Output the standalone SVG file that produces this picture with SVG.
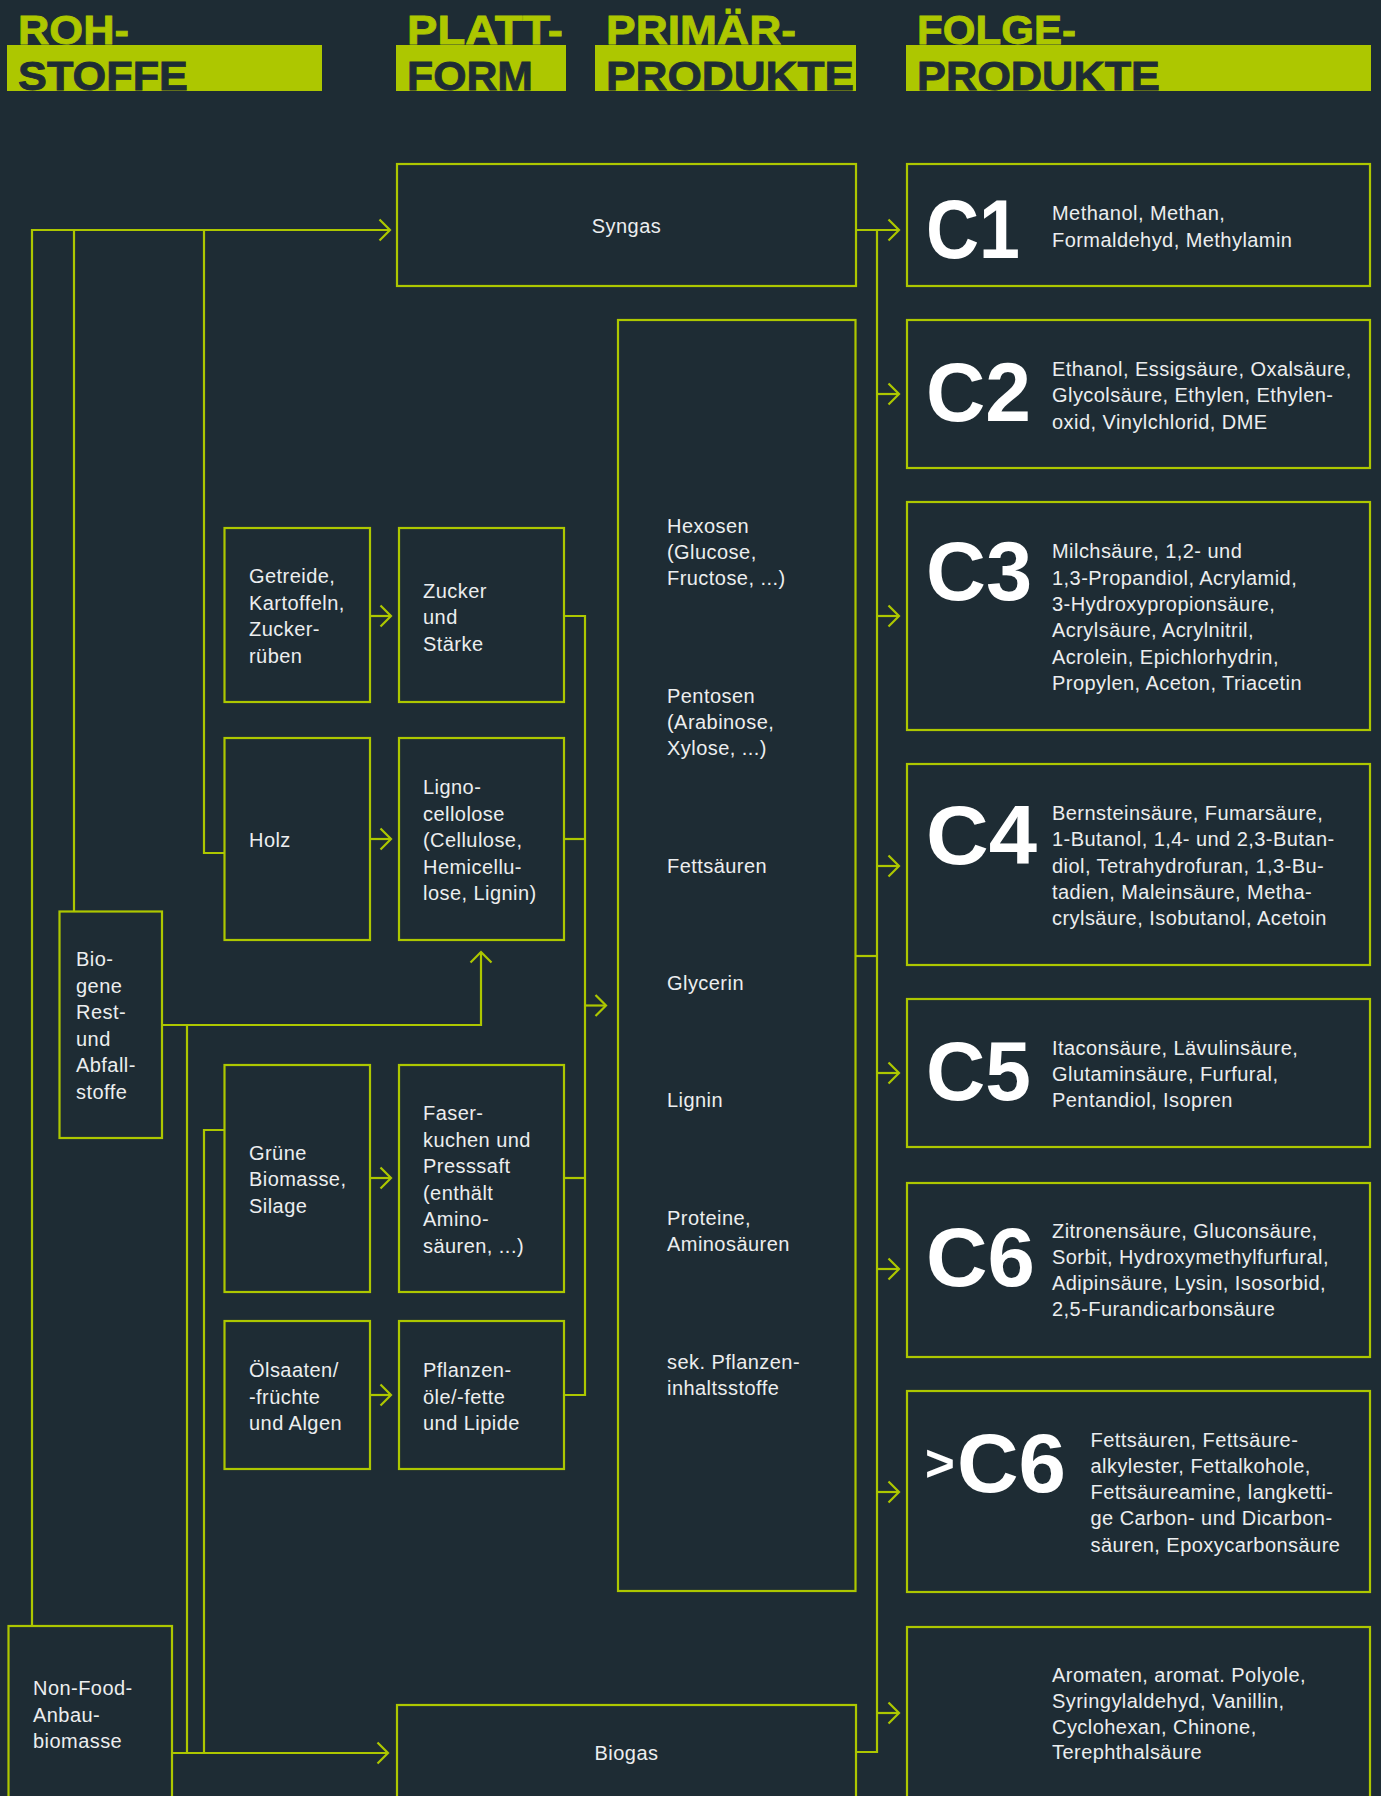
<svg xmlns="http://www.w3.org/2000/svg" width="1381" height="1796" viewBox="0 0 1381 1796">
<style>
.bg{fill:#1e2c34}
.box{fill:none;stroke:#adc700;stroke-width:2.2}
.con{fill:none;stroke:#adc700;stroke-width:2.2}
.bar{fill:#adc700}
.h1{font-family:"Liberation Sans",Arial,sans-serif;font-weight:bold;font-size:41px;fill:#adc700;stroke:#adc700;stroke-width:0.8}
.h2{font-family:"Liberation Sans",Arial,sans-serif;font-weight:bold;font-size:41px;fill:#1e2c34;stroke:#1e2c34;stroke-width:0.8}
.t{font-family:"Liberation Sans",Arial,sans-serif;font-size:20px;letter-spacing:0.45px;fill:#eceeef}
.c{font-family:"Liberation Sans",Arial,sans-serif;font-weight:bold;font-size:84px;fill:#ffffff}
</style>
<defs>
<marker id="ah" markerUnits="userSpaceOnUse" viewBox="0 0 14 24" markerWidth="14" markerHeight="24" refX="11" refY="11" orient="auto" overflow="visible">
<path d="M0.5,0.5 L11,11 L0.5,21.5" fill="none" stroke="#adc700" stroke-width="2.2"/>
</marker>
</defs>
<rect class="bg" x="0" y="0" width="1381" height="1796"/>

<g id="header">
<rect class="bar" x="7" y="45" width="315" height="46"/>
<rect class="bar" x="396" y="45" width="170" height="46"/>
<rect class="bar" x="595" y="45" width="261" height="46"/>
<rect class="bar" x="906" y="45" width="465" height="46"/>
<text class="h1" x="18" y="44" textLength="111" lengthAdjust="spacingAndGlyphs">ROH-</text>
<text class="h2" x="18" y="90" textLength="170" lengthAdjust="spacingAndGlyphs">STOFFE</text>
<text class="h1" x="407" y="44" textLength="156" lengthAdjust="spacingAndGlyphs">PLATT-</text>
<text class="h2" x="407" y="90" textLength="126" lengthAdjust="spacingAndGlyphs">FORM</text>
<text class="h1" x="606" y="44" textLength="190" lengthAdjust="spacingAndGlyphs">PRIMÄR-</text>
<text class="h2" x="606" y="90" textLength="248" lengthAdjust="spacingAndGlyphs">PRODUKTE</text>
<text class="h1" x="917" y="44" textLength="159" lengthAdjust="spacingAndGlyphs">FOLGE-</text>
<text class="h2" x="917" y="90" textLength="243" lengthAdjust="spacingAndGlyphs">PRODUKTE</text>
</g>

<g id="connectors">
<path class="con" d="M32,1626 V230 H390" marker-end="url(#ah)"/>
<path class="con" d="M74,911 V230"/>
<path class="con" d="M204,230 V853 H224.5"/>
<path class="con" d="M162,1025 H481 V952" marker-end="url(#ah)"/>
<path class="con" d="M187,1025 V1753"/>
<path class="con" d="M224.5,1130 H204 V1753"/>
<path class="con" d="M172,1753 H388" marker-end="url(#ah)"/>
<path class="con" d="M370,616 H391" marker-end="url(#ah)"/>
<path class="con" d="M370,839 H391" marker-end="url(#ah)"/>
<path class="con" d="M370,1178 H391" marker-end="url(#ah)"/>
<path class="con" d="M370,1395 H391" marker-end="url(#ah)"/>
<path class="con" d="M564,616 H585 V1395 H564"/>
<path class="con" d="M564,839 H585"/>
<path class="con" d="M564,1178 H585"/>
<path class="con" d="M585,1005.5 H606" marker-end="url(#ah)"/>
<path class="con" d="M856,230 H899" marker-end="url(#ah)"/>
<path class="con" d="M877,230 V1752 H856"/>
<path class="con" d="M856,956 H877"/>
<path class="con" d="M877,394 H899" marker-end="url(#ah)"/>
<path class="con" d="M877,616 H899" marker-end="url(#ah)"/>
<path class="con" d="M877,866 H899" marker-end="url(#ah)"/>
<path class="con" d="M877,1073 H899" marker-end="url(#ah)"/>
<path class="con" d="M877,1269 H899" marker-end="url(#ah)"/>
<path class="con" d="M877,1492 H899" marker-end="url(#ah)"/>
<path class="con" d="M877,1713 H899" marker-end="url(#ah)"/>
</g>

<g id="syngas">
<rect class="box" x="397" y="164" width="459" height="122"/>
<text class="t" x="626.5" y="233" text-anchor="middle">Syngas</text>
</g>
<g id="biogas">
<rect class="box" x="397" y="1705" width="459" height="120"/>
<text class="t" x="626.5" y="1760" text-anchor="middle">Biogas</text>
</g>

<g id="getreide">
<rect class="box" x="224.5" y="528" width="145.5" height="174"/>
<text class="t" x="249" y="583"><tspan x="249">Getreide,</tspan><tspan x="249" dy="26.6">Kartoffeln,</tspan><tspan x="249" dy="26.6">Zucker-</tspan><tspan x="249" dy="26.6">rüben</tspan></text>
</g>
<g id="zucker">
<rect class="box" x="399" y="528" width="165" height="174"/>
<text class="t" x="423" y="598"><tspan x="423">Zucker</tspan><tspan x="423" dy="26.4">und</tspan><tspan x="423" dy="26.4">Stärke</tspan></text>
</g>
<g id="holz">
<rect class="box" x="224.5" y="738" width="145.5" height="202"/>
<text class="t" x="249" y="847">Holz</text>
</g>
<g id="ligno">
<rect class="box" x="399" y="738" width="165" height="202"/>
<text class="t" x="423" y="794"><tspan x="423">Ligno-</tspan><tspan x="423" dy="26.5">cellolose</tspan><tspan x="423" dy="26.5">(Cellulose,</tspan><tspan x="423" dy="26.5">Hemicellu-</tspan><tspan x="423" dy="26.5">lose, Lignin)</tspan></text>
</g>
<g id="bio">
<rect class="box" x="59.5" y="911.5" width="102.5" height="226.5"/>
<text class="t" x="76" y="966.4"><tspan x="76">Bio-</tspan><tspan x="76" dy="26.45">gene</tspan><tspan x="76" dy="26.45">Rest-</tspan><tspan x="76" dy="26.45">und</tspan><tspan x="76" dy="26.45">Abfall-</tspan><tspan x="76" dy="26.45">stoffe</tspan></text>
</g>
<g id="gruene">
<rect class="box" x="224.5" y="1065" width="145.5" height="227"/>
<text class="t" x="249" y="1160"><tspan x="249">Grüne</tspan><tspan x="249" dy="26.4">Biomasse,</tspan><tspan x="249" dy="26.4">Silage</tspan></text>
</g>
<g id="faser">
<rect class="box" x="399" y="1065" width="165" height="227"/>
<text class="t" x="423" y="1120"><tspan x="423">Faser-</tspan><tspan x="423" dy="26.6">kuchen und</tspan><tspan x="423" dy="26.6">Presssaft</tspan><tspan x="423" dy="26.6">(enthält</tspan><tspan x="423" dy="26.6">Amino-</tspan><tspan x="423" dy="26.6">säuren, ...)</tspan></text>
</g>
<g id="oel">
<rect class="box" x="224.5" y="1321" width="145.5" height="148"/>
<text class="t" x="249" y="1377"><tspan x="249">Ölsaaten/</tspan><tspan x="249" dy="26.5">-früchte</tspan><tspan x="249" dy="26.5">und Algen</tspan></text>
</g>
<g id="pflanzen">
<rect class="box" x="399" y="1321" width="165" height="148"/>
<text class="t" x="423" y="1377"><tspan x="423">Pflanzen-</tspan><tspan x="423" dy="26.5">öle/-fette</tspan><tspan x="423" dy="26.5">und Lipide</tspan></text>
</g>
<g id="nonfood">
<rect class="box" x="8.5" y="1626" width="163.5" height="200"/>
<text class="t" x="33" y="1695"><tspan x="33">Non-Food-</tspan><tspan x="33" dy="26.5">Anbau-</tspan><tspan x="33" dy="26.5">biomasse</tspan></text>
</g>

<g id="primaer">
<rect class="box" x="618" y="320" width="237.5" height="1271"/>
<text class="t" x="667" y="533.3"><tspan x="667">Hexosen</tspan><tspan x="667" dy="26">(Glucose,</tspan><tspan x="667" dy="26">Fructose, ...)</tspan></text>
<text class="t" x="667" y="703.3"><tspan x="667">Pentosen</tspan><tspan x="667" dy="26">(Arabinose,</tspan><tspan x="667" dy="26">Xylose, ...)</tspan></text>
<text class="t" x="667" y="873.3">Fettsäuren</text>
<text class="t" x="667" y="990">Glycerin</text>
<text class="t" x="667" y="1106.7">Lignin</text>
<text class="t" x="667" y="1225"><tspan x="667">Proteine,</tspan><tspan x="667" dy="25.5">Aminosäuren</tspan></text>
<text class="t" x="667" y="1369.3"><tspan x="667">sek. Pflanzen-</tspan><tspan x="667" dy="25.5">inhaltsstoffe</tspan></text>
</g>

<g id="c1">
<rect class="box" x="907" y="164" width="463" height="122"/>
<text class="c" x="926" y="258" textLength="94" lengthAdjust="spacingAndGlyphs">C1</text>
<text class="t" x="1052" y="220"><tspan x="1052">Methanol, Methan,</tspan><tspan x="1052" dy="26.7">Formaldehyd, Methylamin</tspan></text>
</g>
<g id="c2">
<rect class="box" x="907" y="320" width="463" height="148"/>
<text class="c" x="926" y="421" textLength="105" lengthAdjust="spacingAndGlyphs">C2</text>
<text class="t" x="1052" y="376"><tspan x="1052">Ethanol, Essigsäure, Oxalsäure,</tspan><tspan x="1052" dy="26.3">Glycolsäure, Ethylen, Ethylen-</tspan><tspan x="1052" dy="26.3">oxid, Vinylchlorid, DME</tspan></text>
</g>
<g id="c3">
<rect class="box" x="907" y="502" width="463" height="228"/>
<text class="c" x="926" y="600" textLength="106" lengthAdjust="spacingAndGlyphs">C3</text>
<text class="t" x="1052" y="558.3"><tspan x="1052">Milchsäure, 1,2- und</tspan><tspan x="1052" dy="26.35">1,3-Propandiol, Acrylamid,</tspan><tspan x="1052" dy="26.35">3-Hydroxypropionsäure,</tspan><tspan x="1052" dy="26.35">Acrylsäure, Acrylnitril,</tspan><tspan x="1052" dy="26.35">Acrolein, Epichlorhydrin,</tspan><tspan x="1052" dy="26.35">Propylen, Aceton, Triacetin</tspan></text>
</g>
<g id="c4">
<rect class="box" x="907" y="764" width="463" height="201"/>
<text class="c" x="926" y="864" textLength="111" lengthAdjust="spacingAndGlyphs">C4</text>
<text class="t" x="1052" y="820"><tspan x="1052">Bernsteinsäure, Fumarsäure,</tspan><tspan x="1052" dy="26.25">1-Butanol, 1,4- und 2,3-Butan-</tspan><tspan x="1052" dy="26.25">diol, Tetrahydrofuran, 1,3-Bu-</tspan><tspan x="1052" dy="26.25">tadien, Maleinsäure, Metha-</tspan><tspan x="1052" dy="26.25">crylsäure, Isobutanol, Acetoin</tspan></text>
</g>
<g id="c5">
<rect class="box" x="907" y="999" width="463" height="148"/>
<text class="c" x="926" y="1100" textLength="105" lengthAdjust="spacingAndGlyphs">C5</text>
<text class="t" x="1052" y="1055"><tspan x="1052">Itaconsäure, Lävulinsäure,</tspan><tspan x="1052" dy="25.85">Glutaminsäure, Furfural,</tspan><tspan x="1052" dy="25.85">Pentandiol, Isopren</tspan></text>
</g>
<g id="c6">
<rect class="box" x="907" y="1183" width="463" height="174"/>
<text class="c" x="926" y="1286" textLength="109" lengthAdjust="spacingAndGlyphs">C6</text>
<text class="t" x="1052" y="1237.7"><tspan x="1052">Zitronensäure, Gluconsäure,</tspan><tspan x="1052" dy="26.1">Sorbit, Hydroxymethylfurfural,</tspan><tspan x="1052" dy="26.1">Adipinsäure, Lysin, Isosorbid,</tspan><tspan x="1052" dy="26.1">2,5-Furandicarbonsäure</tspan></text>
</g>
<g id="c6plus">
<rect class="box" x="907" y="1391" width="463" height="201"/>
<text class="c" x="925" y="1481" style="font-size:51px">&gt;</text>
<text class="c" x="957" y="1492" textLength="109" lengthAdjust="spacingAndGlyphs">C6</text>
<text class="t" x="1090.5" y="1446.7"><tspan x="1090.5">Fettsäuren, Fettsäure-</tspan><tspan x="1090.5" dy="26.25">alkylester, Fettalkohole,</tspan><tspan x="1090.5" dy="26.25">Fettsäureamine, langketti-</tspan><tspan x="1090.5" dy="26.25">ge Carbon- und Dicarbon-</tspan><tspan x="1090.5" dy="26.25">säuren, Epoxycarbonsäure</tspan></text>
</g>
<g id="aromaten">
<rect class="box" x="907" y="1627" width="463" height="200"/>
<text class="t" x="1052" y="1681.7"><tspan x="1052">Aromaten, aromat. Polyole,</tspan><tspan x="1052" dy="25.9">Syringylaldehyd, Vanillin,</tspan><tspan x="1052" dy="25.9">Cyclohexan, Chinone,</tspan><tspan x="1052" dy="25.9">Terephthalsäure</tspan></text>
</g>
</svg>
